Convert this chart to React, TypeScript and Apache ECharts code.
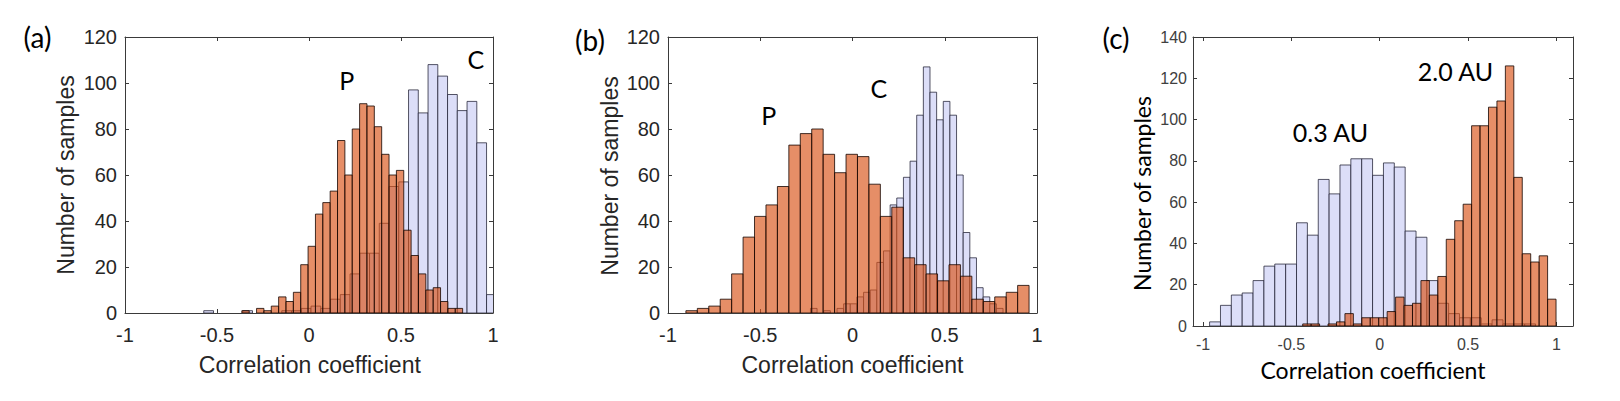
import React, { useEffect, useRef } from "react";
import * as echarts from "echarts";

// ---------- data (bin start, bin width, counts) ----------
// Panel (a)
const aPStart = -0.365;
const aPWidth = 0.04;
const aPCounts = [1, 0, 2, 1, 3, 7, 5, 9, 21, 29, 43, 48, 53, 75, 60, 80, 91, 90, 81, 69, 60, 62, 36, 25, 17, 10, 11, 5, 2, 2];
const aCStart = -0.572;
const aCWidth = 0.053;
const aCCounts = [1, 0, 0, 0, 1, 0, 0, 0, 1, 1, 2, 3, 2, 6, 8, 17, 26, 26, 39, 55, 57, 97, 87, 108, 103, 95, 88, 92, 74, 8];

// Panel (b)
const bPStart = -0.903;
const bPWidth = 0.062;
const bPCounts = [1, 2, 3, 6, 17, 33, 42, 47, 55, 73, 78, 80, 69, 61, 69, 68, 56, 42, 46, 24, 21, 17, 14, 21, 16, 6, 5, 7, 9, 12];
const bCStart = -0.228;
const bCWidth = 0.036;
const bCCounts = [2, 0, 1, 0, 2, 4, 4, 7, 9, 10, 22, 27, 47, 50, 59, 66, 86, 107, 96, 84, 92, 86, 60, 35, 24, 11, 7, 4, 2];

// Panel (c)
const cCStart = -0.963;
const cCWidth = 0.0615;
const cCCounts = [2, 10, 15, 16, 22, 29, 30, 30, 50, 44, 71, 64, 78, 81, 81, 73, 79, 77, 46, 43, 22, 11, 6, 4, 4, 1, 3, 1, 1, 1];
const cPStart = -0.436;
const cPWidth = 0.0478;
const cPCounts = [1, 1, 0, 1, 2, 6, 1, 4, 4, 4, 7, 14, 10, 11, 22, 15, 24, 42, 51, 59, 97, 97, 106, 109, 126, 72, 35, 31, 34, 13];

// tick values
const xTickValues = [-1, -0.5, 0, 0.5, 1];
const yMaxAB = 120;
const yMaxC = 140;
const yInterval = 20;

// ---------- styling ----------
const FONT_ARIAL = '"Liberation Sans", Arial, Helvetica, sans-serif';
const FONT_CAL = 'Lato, "Open Sans", sans-serif';
const AXIS_COLOR = "#3a3a3a";
const C_FILL = "#dcdef8";
const C_STROKE = "rgba(30,30,50,0.75)";
const P_FILL = "rgba(217,83,25,0.66)";
const P_STROKE = "rgba(20,5,0,0.8)";

function toBins(start: number, width: number, counts: number[]) {
  return counts.map((c, i) => [start + i * width, start + (i + 1) * width, c]);
}

function histSeries(axisIdx: number, data: number[][], fill: string, stroke: string, z: number) {
  return {
    type: "custom",
    xAxisIndex: axisIdx,
    yAxisIndex: axisIdx,
    clip: true,
    z,
    encode: { x: [0, 1], y: 2 },
    data,
    renderItem: (params: any, api: any) => {
      const x0 = api.value(0);
      const x1 = api.value(1);
      const h = api.value(2);
      if (!h) return null;
      const p0 = api.coord([x0, 0]);
      const p1 = api.coord([x1, h]);
      return {
        type: "rect",
        shape: { x: p0[0], y: p1[1], width: p1[0] - p0[0], height: p0[1] - p1[1] },
        style: { fill, stroke, lineWidth: 1 },
      };
    },
  };
}

function xAxes(grid: number, min: number, max: number, useCustom: boolean, fontSize: number, margin: number, labelColor: string) {
  const tick: any = { show: true, inside: true, length: 4, lineStyle: { color: AXIS_COLOR } };
  const base: any = {
    type: "value",
    gridIndex: grid,
    min,
    max,
    splitLine: { show: false },
    axisLine: { show: true, onZero: false, lineStyle: { color: AXIS_COLOR, width: 1 } },
  };
  if (useCustom) {
    tick.customValues = xTickValues;
  } else {
    base.interval = 0.5;
  }
  const label: any = {
    show: true,
    fontSize,
    lineHeight: fontSize,
    fontFamily: FONT_ARIAL,
    color: labelColor,
    margin,
    formatter: (v: number) => String(v),
  };
  if (useCustom) label.customValues = xTickValues;
  return [
    { ...base, position: "bottom", axisTick: tick, axisLabel: label },
    { ...base, position: "top", axisTick: tick, axisLabel: { show: false } },
  ];
}

function yAxes(grid: number, max: number, fontSize: number, margin: number, labelColor: string) {
  const base: any = {
    type: "value",
    gridIndex: grid,
    min: 0,
    max,
    interval: yInterval,
    splitLine: { show: false },
    axisLine: { show: true, onZero: false, lineStyle: { color: AXIS_COLOR, width: 1 } },
    axisTick: { show: true, inside: true, length: 4, lineStyle: { color: AXIS_COLOR } },
  };
  return [
    {
      ...base,
      position: "left",
      axisLabel: { show: true, fontSize, lineHeight: fontSize, fontFamily: FONT_ARIAL, color: labelColor, margin },
    },
    { ...base, position: "right", axisLabel: { show: false } },
  ];
}

function txt(text: string, x: number, y: number, fontSize: number, fontFamily: string, fill: string, rotation = 0) {
  return {
    type: "text",
    x,
    y,
    rotation,
    silent: true,
    style: { text, fontSize, fontFamily, fill, align: "center", verticalAlign: "middle" },
  };
}

export default function App() {
  const ref = useRef<HTMLDivElement>(null);

  useEffect(() => {
    document.body.style.margin = "0";
    if (!ref.current) return;
    const chart = echarts.init(ref.current, undefined, { renderer: "svg" });

    const option: any = {
      animation: false,
      backgroundColor: "#ffffff",
      grid: [
        { left: 125, top: 37, width: 368, height: 276 },
        { left: 668, top: 37, width: 369, height: 276 },
        { left: 1193, top: 37, width: 380, height: 289 },
      ],
      xAxis: [
        ...xAxes(0, -1, 1, false, 20, 12, "#262626"),
        ...xAxes(1, -1, 1, false, 20, 12, "#262626"),
        ...xAxes(2, -1.057, 1.094, true, 16, 10, "#404040"),
      ],
      yAxis: [
        ...yAxes(0, yMaxAB, 20, 8, "#262626"),
        ...yAxes(1, yMaxAB, 20, 8, "#262626"),
        ...yAxes(2, yMaxC, 16, 6, "#404040"),
      ],
      series: [
        histSeries(0, toBins(aCStart, aCWidth, aCCounts), C_FILL, C_STROKE, 2),
        histSeries(0, toBins(aPStart, aPWidth, aPCounts), P_FILL, P_STROKE, 3),
        histSeries(2, toBins(bCStart, bCWidth, bCCounts), C_FILL, C_STROKE, 2),
        histSeries(2, toBins(bPStart, bPWidth, bPCounts), P_FILL, P_STROKE, 3),
        histSeries(4, toBins(cCStart, cCWidth, cCCounts), C_FILL, C_STROKE, 2),
        histSeries(4, toBins(cPStart, cPWidth, cPCounts), P_FILL, P_STROKE, 3),
      ],
      graphic: [
        txt("(a)", 37.5, 36.5, 28, FONT_CAL, "#000"),
        txt("(b)", 590, 40, 28, FONT_CAL, "#000"),
        txt("(c)", 1116, 38, 28, FONT_CAL, "#000"),
        txt("P", 346.7, 79.5, 25, FONT_CAL, "#000"),
        txt("C", 475.8, 59, 25, FONT_CAL, "#000"),
        txt("P", 768.7, 114.7, 25, FONT_CAL, "#000"),
        txt("C", 878.8, 87.5, 25, FONT_CAL, "#000"),
        txt("0.3 AU", 1330.5, 131.7, 25, FONT_CAL, "#000"),
        txt("2.0 AU", 1455.5, 70.5, 25, FONT_CAL, "#000"),
        txt("Number of samples", 66, 175, 23, FONT_ARIAL, "#262626", Math.PI / 2),
        txt("Number of samples", 610, 176, 23, FONT_ARIAL, "#262626", Math.PI / 2),
        txt("Number of samples", 1142, 193.5, 23, FONT_CAL, "#000", Math.PI / 2),
        txt("Correlation coefficient", 309.8, 365, 23, FONT_ARIAL, "#262626"),
        txt("Correlation coefficient", 852.5, 365, 23, FONT_ARIAL, "#262626"),
        txt("Correlation coefficient", 1373, 370, 23, FONT_CAL, "#000"),
      ],
    };

    chart.setOption(option);
    return () => {
      chart.dispose();
    };
  }, []);

  return <div ref={ref} style={{ width: 1620, height: 401 }} />;
}
